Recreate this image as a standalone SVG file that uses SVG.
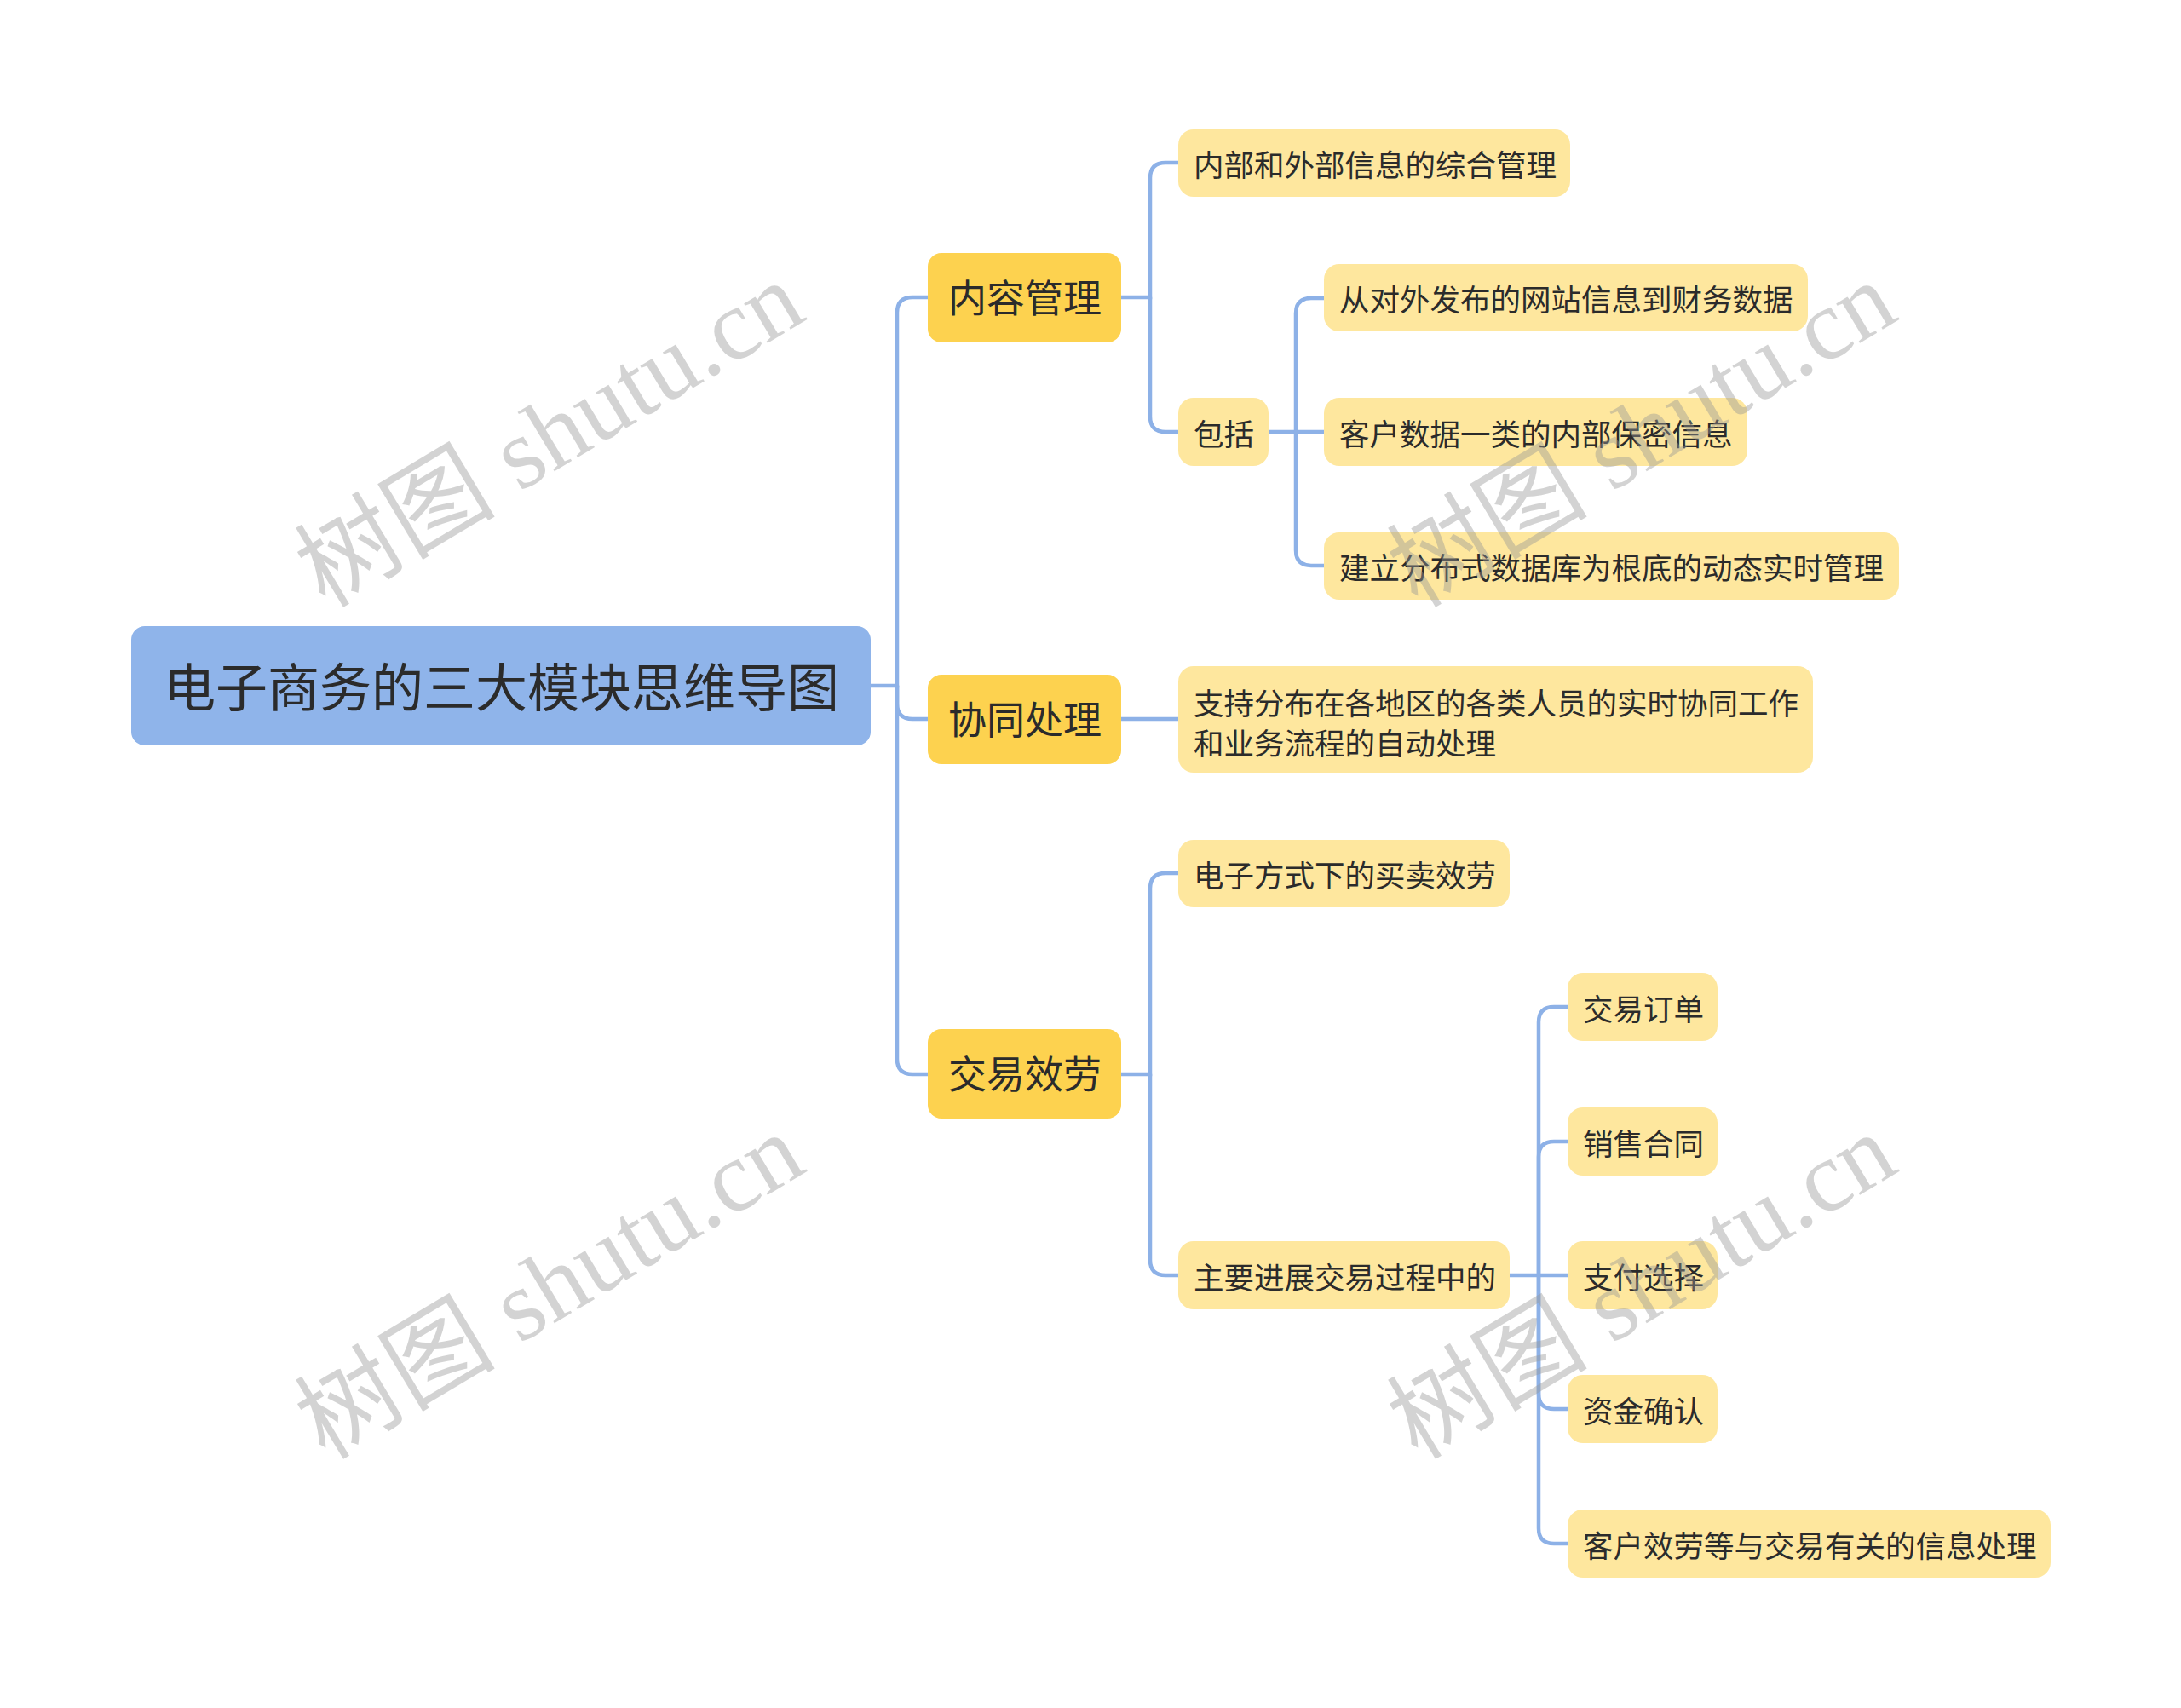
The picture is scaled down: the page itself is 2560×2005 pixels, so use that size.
<svg xmlns="http://www.w3.org/2000/svg" width="2560" height="2005" viewBox="0 0 2560 2005">
<style>
text{font-family:"Noto Sans CJK SC","Noto Sans",sans-serif;fill:#2b2b2b}
.root rect{fill:#8FB4EA}
.l1 rect{fill:#FDD24F}
.l2 rect{fill:#FEE79E}
.root text{font-size:61px}
.l1 text{font-size:45px}
.l2 text{font-size:35.5px}
.conn path{fill:none;stroke:#8DB1E7;stroke-width:4.5;stroke-linecap:round}
.wm{font-family:"Liberation Serif","Noto Sans CJK SC",serif;font-size:118px;fill:#969696;fill-opacity:0.42}
</style>
<rect width="2560" height="2005" fill="#ffffff"/>
<g id="connectors" class="conn">
<path d="M1022 805 H1053 V367 Q1053 349 1071 349 H1089"/>
<path d="M1053 805 V826 Q1053 844 1071 844 H1089"/>
<path d="M1053 805 V1243 Q1053 1261 1071 1261 H1089"/>
<path d="M1316 349 H1350 V209 Q1350 191 1368 191 H1383"/>
<path d="M1350 349 V489 Q1350 507 1368 507 H1383"/>
<path d="M1489 507 H1554"/>
<path d="M1521 507 V368 Q1521 350 1539 350 H1554"/>
<path d="M1521 507 V646 Q1521 664 1539 664 H1554"/>
<path d="M1316 844 H1383"/>
<path d="M1316 1261 H1350 V1043 Q1350 1025 1368 1025 H1383"/>
<path d="M1350 1261 V1479 Q1350 1497 1368 1497 H1383"/>
<path d="M1772 1497 H1840"/>
<path d="M1806 1497 V1200 Q1806 1182 1824 1182 H1840"/>
<path d="M1806 1497 V1358 Q1806 1340 1824 1340 H1840"/>
<path d="M1806 1497 V1636 Q1806 1654 1824 1654 H1840"/>
<path d="M1806 1497 V1794 Q1806 1812 1824 1812 H1840"/>
</g>
<g id="root" class="root"><rect x="154" y="735" width="868" height="140" rx="16"/><text x="192" y="830">电子商务的三大模块思维导图</text></g>
<g id="n1" class="l1"><rect x="1089" y="297" width="227" height="105" rx="16"/><text x="1113" y="367">内容管理</text></g>
<g id="n2" class="l1"><rect x="1089" y="792" width="227" height="105" rx="16"/><text x="1113" y="862">协同处理</text></g>
<g id="n3" class="l1"><rect x="1089" y="1208" width="227" height="105" rx="16"/><text x="1113" y="1278">交易效劳</text></g>
<g id="n1a" class="l2"><rect x="1383" y="152" width="460" height="79" rx="18"/><text x="1401" y="207">内部和外部信息的综合管理</text></g>
<g id="n1b" class="l2"><rect x="1383" y="467" width="106" height="80" rx="18"/><text x="1401" y="523">包括</text></g>
<g id="n1b1" class="l2"><rect x="1554" y="310" width="568" height="79" rx="18"/><text x="1572" y="365">从对外发布的网站信息到财务数据</text></g>
<g id="n1b2" class="l2"><rect x="1554" y="467" width="497" height="80" rx="18"/><text x="1572" y="523">客户数据一类的内部保密信息</text></g>
<g id="n1b3" class="l2"><rect x="1554" y="625" width="675" height="79" rx="18"/><text x="1572" y="680">建立分布式数据库为根底的动态实时管理</text></g>
<g id="n2a" class="l2"><rect x="1383" y="782" width="745" height="125" rx="18"/><text x="1401" y="839">支持分布在各地区的各类人员的实时协同工作</text><text x="1401" y="886">和业务流程的自动处理</text></g>
<g id="n3a" class="l2"><rect x="1383" y="986" width="389" height="79" rx="18"/><text x="1401" y="1041">电子方式下的买卖效劳</text></g>
<g id="n3b" class="l2"><rect x="1383" y="1457" width="389" height="80" rx="18"/><text x="1401" y="1513">主要进展交易过程中的</text></g>
<g id="n3b1" class="l2"><rect x="1840" y="1142" width="176" height="80" rx="18"/><text x="1858" y="1198">交易订单</text></g>
<g id="n3b2" class="l2"><rect x="1840" y="1300" width="176" height="80" rx="18"/><text x="1858" y="1356">销售合同</text></g>
<g id="n3b3" class="l2"><rect x="1840" y="1457" width="176" height="80" rx="18"/><text x="1858" y="1513">支付选择</text></g>
<g id="n3b4" class="l2"><rect x="1840" y="1614" width="176" height="80" rx="18"/><text x="1858" y="1670">资金确认</text></g>
<g id="n3b5" class="l2"><rect x="1840" y="1772" width="567" height="80" rx="18"/><text x="1858" y="1828">客户效劳等与交易有关的信息处理</text></g>
<g id="watermarks">
<text class="wm" x="645" y="550" text-anchor="middle" transform="rotate(-31 645 510)">树图 shutu.cn</text>
<text class="wm" x="1927" y="550" text-anchor="middle" transform="rotate(-31 1927 510)">树图 shutu.cn</text>
<text class="wm" x="645" y="1550" text-anchor="middle" transform="rotate(-31 645 1510)">树图 shutu.cn</text>
<text class="wm" x="1927" y="1550" text-anchor="middle" transform="rotate(-31 1927 1510)">树图 shutu.cn</text>
</g>
</svg>
